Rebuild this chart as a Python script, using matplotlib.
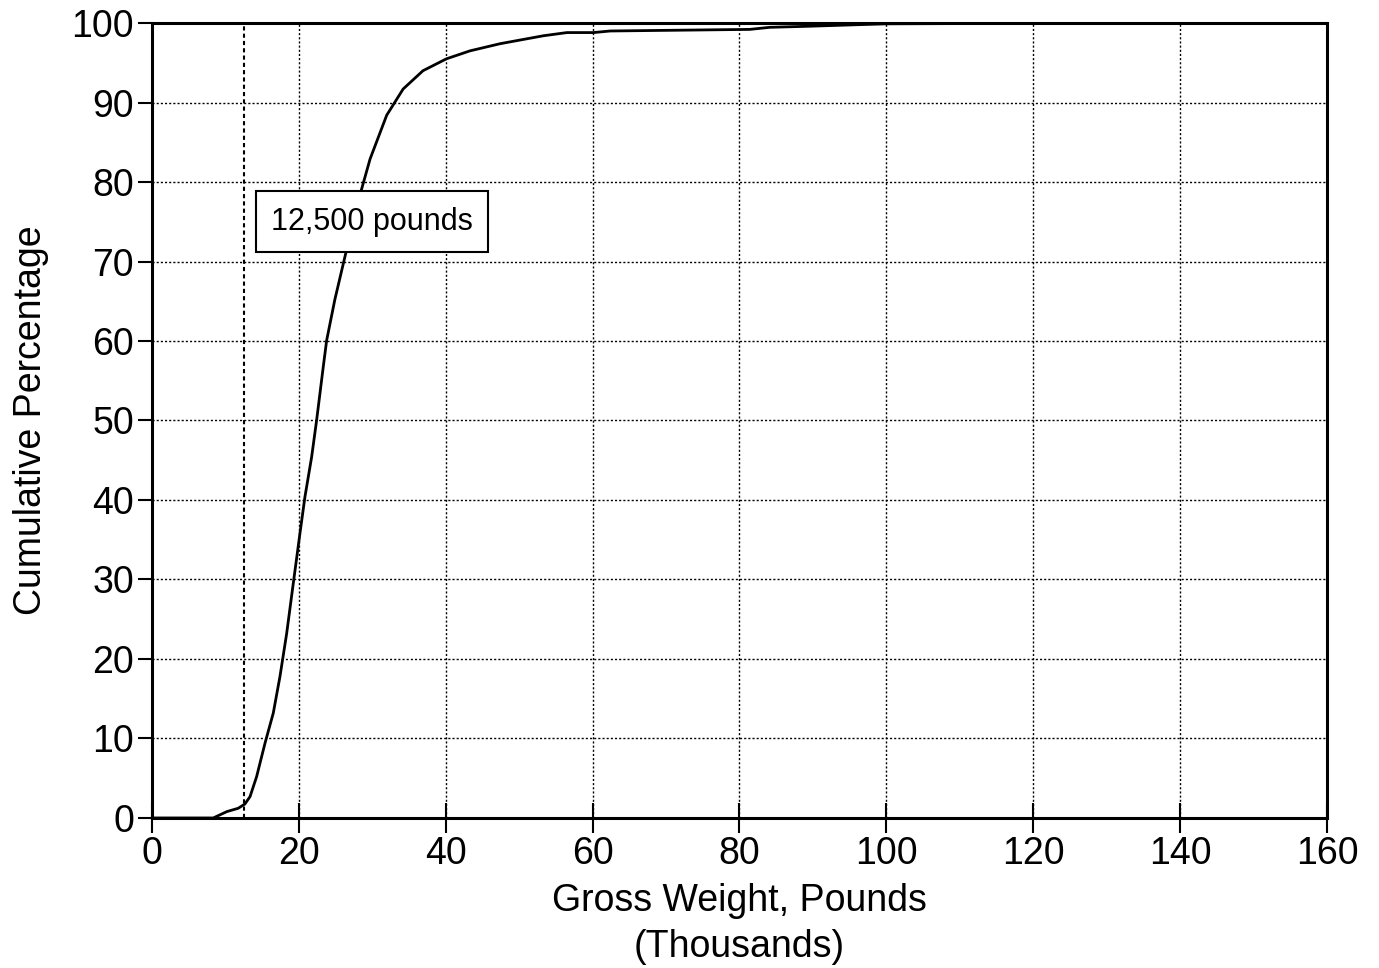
import matplotlib
matplotlib.use("Agg")
import matplotlib.pyplot as plt

plt.rcParams['font.family'] = ['Liberation Sans', 'DejaVu Sans']

# Cumulative distribution of gross weight (thousands of pounds)
weight_k = [0, 8.35, 10.2, 11.75, 12.66, 13.35, 14.25, 15.39, 16.52, 17.43, 18.34,
            19.24, 20.15, 20.83, 21.74, 22.43, 23.33, 23.79, 24.9, 26.3, 28.3,
            29.7, 31.96, 34.2, 36.9, 40.1, 43.3, 47.4, 53.3, 56.5, 60.1, 62.4,
            81.4, 84.1, 89.6, 96.4, 100, 130, 160]
cum_pct = [0, 0, 0.8, 1.22, 1.76, 2.68, 5.2, 9.4, 13.2, 17.8, 23.2,
           29.5, 35.8, 40.4, 45.4, 50.1, 56.8, 60.1, 65.2, 70.7, 78.3,
           82.9, 88.4, 91.7, 94.0, 95.5, 96.5, 97.4, 98.4, 98.8, 98.8, 99.0,
           99.2, 99.46, 99.6, 99.8, 99.9, 100, 100]

x_ticks = [0, 20, 40, 60, 80, 100, 120, 140, 160]
y_ticks = [0, 10, 20, 30, 40, 50, 60, 70, 80, 90, 100]
threshold_k = 12.5
annotation = "12,500 pounds"

fig = plt.figure(figsize=(13.79, 9.68), dpi=100)
ax = fig.add_axes([0.1102, 0.155, 0.8521, 0.8212])

ax.plot(weight_k, cum_pct, color='black', lw=2.0, zorder=3)
ax.axvline(threshold_k, color='black', lw=1.5, ls=(0, (2, 1.5)), zorder=2)

ax.set_xlim(0, 160)
ax.set_ylim(0, 100)
ax.set_xticks(x_ticks)
ax.set_yticks(y_ticks)
ax.grid(True, color='black', lw=1.0, ls=(0, (1.5, 1.5)), zorder=1)

for s in ax.spines.values():
    s.set_linewidth(2.2)

ax.tick_params(axis='x', direction='inout', length=22, width=1.5, labelsize=27, pad=2)
ax.tick_params(axis='y', direction='out', length=10, width=1.5, labelsize=27, pad=3)

ax.set_xlabel("Gross Weight, Pounds\n(Thousands)", fontsize=27, labelpad=8, linespacing=1.35)
ax.set_ylabel("Cumulative Percentage", fontsize=27, labelpad=16)

ax.text(16.2, 75.0, annotation, fontsize=22, ha='left', va='center', zorder=4,
        bbox=dict(boxstyle='square,pad=0.5', facecolor='white', edgecolor='black', lw=1.5))

fig.savefig("out.png", dpi=100, facecolor='white')
